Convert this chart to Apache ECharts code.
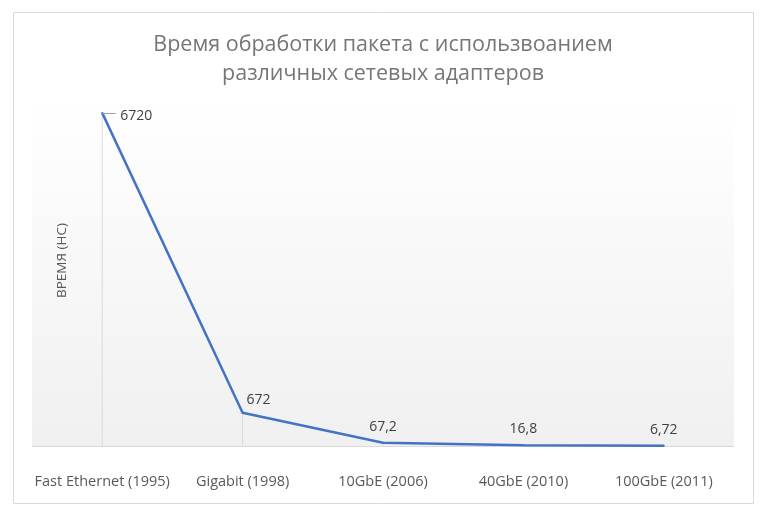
<!DOCTYPE html>
<html><head><meta charset="utf-8">
<script src="https://cdn.jsdelivr.net/npm/echarts@6/dist/echarts.min.js"></script>
<style>html,body{margin:0;padding:0;background:#fff}#c{width:782px;height:522px}</style>
</head><body><div id="c"></div>
<script>
const categories = ['Fast Ethernet (1995)', 'Gigabit (1998)', '10GbE (2006)', '40GbE (2010)', '100GbE (2011)'];
const values = [6720, 672, 67.2, 16.8, 6.72];
const titleText = 'Время обработки пакета с использвоанием\nразличных сетевых адаптеров';
const yName = 'ВРЕМЯ (НС)';

const fmt = v => String(v).replace('.', ',');
const chart = echarts.init(document.getElementById('c'));
const font = '"Open Sans", "Noto Sans", sans-serif';
chart.setOption({
  animation: false,
  textStyle: { fontFamily: font },
  title: {
    text: titleText, left: 378, top: 25, textAlign: 'center',
    textStyle: { color: '#767676', fontSize: 21.5, fontWeight: 'normal', lineHeight: 29, fontFamily: font }
  },
  graphic: [{
    type: 'rect', shape: { x: 13.5, y: 12.5, width: 740, height: 491 },
    style: { fill: 'none', stroke: '#d9d9d9', lineWidth: 1 }, z: -10
  }],
  grid: {
    left: 32, right: 48, top: 99, bottom: 76, show: true, borderWidth: 0,
    backgroundColor: new echarts.graphic.LinearGradient(0, 0, 0, 1, [
      { offset: 0, color: '#ffffff' }, { offset: 1, color: '#f0f0f0' }
    ])
  },
  xAxis: {
    type: 'category', data: categories, boundaryGap: true,
    axisLine: { lineStyle: { color: '#d9d9d9' } }, axisTick: { show: false },
    axisLabel: { color: '#595959', fontSize: 14.5, margin: 28, interval: 0 }
  },
  yAxis: {
    type: 'value', min: 0, max: 7000,
    name: yName, nameLocation: 'middle', nameGap: -37, nameRotate: 90,
    nameTextStyle: { color: '#595959', fontSize: 13.5, padding: [0, 0, 0, 24] },
    axisLine: { show: false }, axisTick: { show: false }, axisLabel: { show: false },
    splitLine: { show: false }
  },
  series: [{
    type: 'bar', data: values, barWidth: 1, barGap: '-100%', silent: true,
    itemStyle: { color: '#d9d9d9' }, z: 1
  }, {
    type: 'line', data: values, symbol: 'circle', symbolSize: 2, showSymbol: true, z: 3,
    itemStyle: { color: '#4472c4' },
    lineStyle: { color: '#4472c4', width: 2.5 },
    label: {
      show: true, color: '#404040', fontSize: 14, position: 'top', distance: 8,
      formatter: p => fmt(p.value)
    },
    labelLayout: function (p) {
      if (p.dataIndex === 0) return { x: p.labelRect.x + p.labelRect.width / 2 + 18, y: p.labelRect.y + p.labelRect.height / 2 + 19, align: 'left', verticalAlign: 'middle' };
      if (p.dataIndex === 1) return { x: p.labelRect.x + p.labelRect.width / 2 + 4, y: p.labelRect.y + p.labelRect.height / 2 + 3, align: 'left', verticalAlign: 'middle' };
      return {};
    },
    markLine: {
      silent: true, symbol: 'none', label: { show: false },
      lineStyle: { color: '#a6a6a6', width: 1, type: 'solid' },
      data: [[{ coord: [0, values[0]] }, { x: 116, y: 113 }]]
    }
  }]
});
</script></body></html>
